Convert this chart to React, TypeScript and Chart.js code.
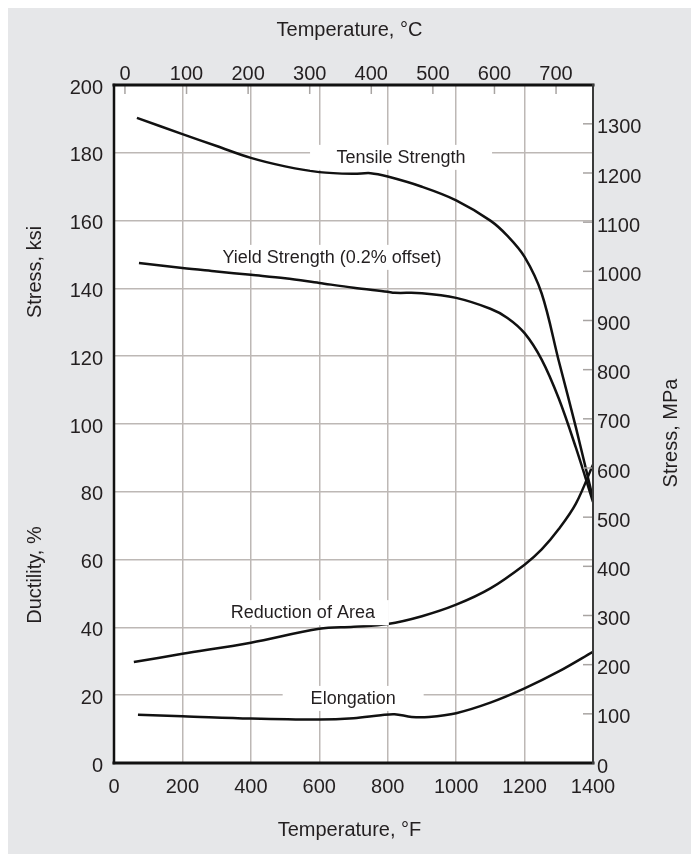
import React, { useEffect, useRef } from 'react';
import { Chart, registerables } from 'chart.js';

Chart.register(...registerables);

// ---- Tick labels ----
const F_TICKS = [0, 200, 400, 600, 800, 1000, 1200, 1400];
const C_TICKS = [0, 100, 200, 300, 400, 500, 600, 700];
const KSI_TICKS = [0, 20, 40, 60, 80, 100, 120, 140, 160, 180, 200];
const MPA_TICKS = [0, 100, 200, 300, 400, 500, 600, 700, 800, 900, 1000, 1100, 1200, 1300];

// ---- Series (temperature °F vs ksi / %) ----
const TENSILE_F = [67, 200, 300, 400, 500, 600, 700, 750, 800, 900, 1000, 1100, 1150, 1200, 1250, 1300, 1350, 1400];
const TENSILE_KSI = [190.3, 185.5, 182, 178.5, 176, 174.3, 173.8, 174, 173, 170, 166, 160, 155.5, 149.3, 138.5, 118.6, 99, 78];

const YIELD_F = [73, 200, 300, 400, 500, 600, 700, 800, 820, 900, 1000, 1100, 1150, 1200, 1250, 1300, 1350, 1400];
const YIELD_KSI = [147.5, 146, 145, 144, 143, 141.6, 140.2, 139, 138.7, 138.6, 137.2, 134, 131.3, 126.8, 119, 107.5, 93, 77];

const ROA_F = [58, 200, 400, 600, 700, 800, 900, 1000, 1100, 1200, 1250, 1300, 1350, 1400];
const ROA_PCT = [29.8, 32.2, 35.5, 39.6, 40.2, 41, 43.3, 46.7, 51.5, 58.5, 63, 69, 76.5, 88];

const ELONG_F = [70, 200, 400, 600, 700, 780, 820, 870, 920, 1000, 1100, 1200, 1300, 1400];
const ELONG_PCT = [14.2, 13.8, 13.1, 12.8, 13.2, 14.1, 14.4, 13.6, 13.6, 14.7, 17.8, 22, 27, 32.8];

// ---- Curve labels (anchor in °F / ksi) ----
const LABELS = ['Tensile Strength', 'Yield Strength (0.2% offset)', 'Reduction of Area', 'Elongation'];
const LABEL_F = [839, 637, 552, 699];
const LABEL_VAL = [178.8, 149.3, 44.5, 19.2];
const LABEL_BOX_W = [182, 235, 172, 141];

const FONT = "'Liberation Sans', Arial, Helvetica, sans-serif";
const TEXT = '#231f20';
const GRID = '#bdb8b5';
const TICK_MARK = '#a8a4a2';
const MPA_PER_KSI = 6.894757;
const fToC = (f: number) => (f - 32) / 1.8;

const pts = (xs: number[], ys: number[]) => xs.map((x, i) => ({ x, y: ys[i] }));

export default function App() {
  const ref = useRef<HTMLCanvasElement>(null);

  useEffect(() => {
    if (!ref.current) return;

    const overlay = {
      id: 'overlay',
      beforeDraw(chart: any) {
        const { ctx, chartArea: a } = chart;
        ctx.save();
        ctx.fillStyle = '#ffffff';
        ctx.fillRect(a.left, a.top, a.right - a.left, a.bottom - a.top);
        ctx.restore();
      },
      afterDatasetsDraw(chart: any) {
        const { ctx, chartArea: a } = chart;
        const xs = chart.scales.x;
        const ys = chart.scales.y;
        const x2 = chart.scales.x2;
        const y2 = chart.scales.y2;
        ctx.save();

        // curve labels on white boxes
        ctx.font = `18px ${FONT}`;
        ctx.textAlign = 'center';
        ctx.textBaseline = 'middle';
        LABELS.forEach((t, i) => {
          const px = xs.getPixelForValue(LABEL_F[i]);
          const py = ys.getPixelForValue(LABEL_VAL[i]);
          const w = LABEL_BOX_W[i];
          ctx.fillStyle = '#ffffff';
          ctx.fillRect(px - w / 2, py - 12, w, 25);
          ctx.fillStyle = TEXT;
          ctx.fillText(t, px, py + 1);
        });

        const line = (x1: number, y1: number, xx: number, yy: number) => {
          ctx.beginPath();
          ctx.moveTo(x1, y1);
          ctx.lineTo(xx, yy);
          ctx.stroke();
        };

        // inward tick marks
        ctx.strokeStyle = TICK_MARK;
        ctx.lineWidth = 1.5;
        C_TICKS.forEach((c) => {
          const px = x2.getPixelForValue(c);
          line(px, a.top, px, a.top + 9);
        });
        MPA_TICKS.slice(1).forEach((m) => {
          const py = y2.getPixelForValue(m);
          line(a.right - 10, py, a.right, py);
        });

        // frame
        ctx.lineCap = 'square';
        ctx.strokeStyle = '#111111';
        ctx.lineWidth = 2.5;
        line(a.left, a.top, a.left, a.bottom);
        ctx.lineWidth = 3;
        line(a.left, a.bottom, a.right, a.bottom);
        line(a.left, a.top, a.right, a.top);
        ctx.strokeStyle = '#3a3a3a';
        ctx.lineWidth = 2;
        line(a.right, a.top, a.right, a.bottom);

        // axis titles
        ctx.fillStyle = TEXT;
        ctx.font = `20px ${FONT}`;
        ctx.textAlign = 'center';
        ctx.textBaseline = 'middle';
        const cx = (a.left + a.right) / 2 - 4;
        ctx.fillText('Temperature, °C', cx, 22);
        ctx.fillText('Temperature, °F', cx, 822);

        const vtext = (t: string, x: number, y: number) => {
          ctx.save();
          ctx.translate(x, y);
          ctx.rotate(-Math.PI / 2);
          ctx.fillText(t, 0, 0);
          ctx.restore();
        };
        vtext('Stress, ksi', 27, 264);
        vtext('Ductility, %', 27, 567);
        vtext('Stress, MPa', 663, 425);

        ctx.restore();
      },
    };

    const lineDs = (xs: number[], ys: number[]) => ({
      data: pts(xs, ys),
      borderColor: '#111111',
      borderWidth: 2.5,
      pointRadius: 0,
      fill: false,
      tension: 0.35,
      xAxisID: 'x',
      yAxisID: 'y',
    });

    const tickFont = { family: FONT, size: 20 };
    const plain = (v: any) => String(v);

    const chart = new Chart(ref.current, {
      type: 'line',
      data: {
        datasets: [
          lineDs(TENSILE_F, TENSILE_KSI),
          lineDs(YIELD_F, YIELD_KSI),
          lineDs(ROA_F, ROA_PCT),
          lineDs(ELONG_F, ELONG_PCT),
        ],
      },
      options: {
        responsive: false,
        animation: false,
        devicePixelRatio: 1,
        layout: { padding: 0 },
        plugins: { legend: { display: false }, tooltip: { enabled: false } },
        scales: {
          x: {
            type: 'linear',
            position: 'bottom',
            min: 0,
            max: 1400,
            afterBuildTicks: (s: any) => { s.ticks = F_TICKS.map((v) => ({ value: v })); },
            afterFit: (s: any) => { s.height = 91; },
            grid: { color: GRID, lineWidth: 1.5, drawTicks: false },
            border: { display: false },
            ticks: { autoSkip: false, maxRotation: 0, color: TEXT, font: tickFont, padding: 12, callback: plain },
          },
          x2: {
            type: 'linear',
            position: 'top',
            min: fToC(0),
            max: fToC(1400),
            afterBuildTicks: (s: any) => { s.ticks = C_TICKS.map((v) => ({ value: v })); },
            afterFit: (s: any) => { s.height = 77; },
            grid: { display: false, drawTicks: false },
            border: { display: false },
            ticks: { autoSkip: false, maxRotation: 0, color: TEXT, font: tickFont, padding: -1, callback: plain },
          },
          y: {
            type: 'linear',
            position: 'left',
            min: 0,
            max: 200,
            afterBuildTicks: (s: any) => { s.ticks = KSI_TICKS.map((v) => ({ value: v })); },
            afterFit: (s: any) => { s.width = 106; },
            grid: { color: GRID, lineWidth: 1.5, drawTicks: false },
            border: { display: false },
            ticks: { autoSkip: false, color: TEXT, font: tickFont, padding: 11, labelOffset: 3, callback: plain },
          },
          y2: {
            type: 'linear',
            position: 'right',
            min: 0,
            max: 200 * MPA_PER_KSI,
            afterBuildTicks: (s: any) => { s.ticks = MPA_TICKS.map((v) => ({ value: v })); },
            afterFit: (s: any) => { s.width = 103; },
            grid: { display: false, drawTicks: false },
            border: { display: false },
            ticks: { autoSkip: false, color: TEXT, font: tickFont, padding: 4, labelOffset: 4, callback: plain },
          },
        },
      },
      plugins: [overlay],
    });

    return () => chart.destroy();
  }, []);

  return (
    <div style={{ width: 688, height: 846, background: '#e6e7e9' }}>
      <canvas ref={ref} width={688} height={846} style={{ display: 'block' }} />
    </div>
  );
}
